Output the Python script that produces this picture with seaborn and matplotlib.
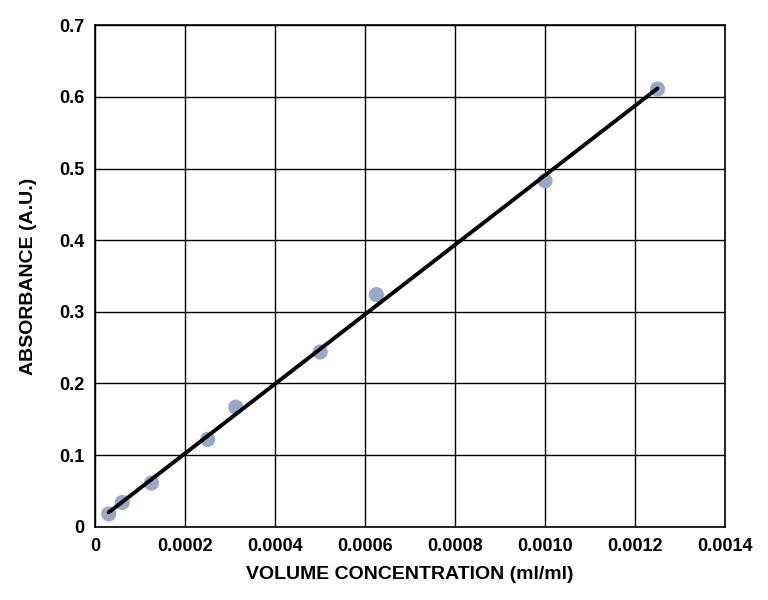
import matplotlib
matplotlib.use("Agg")
import matplotlib.pyplot as plt
import seaborn as sns
import pandas as pd
from matplotlib.ticker import FuncFormatter

# data
concentration = [0.00003, 0.00006, 0.000125, 0.00025, 0.0003125, 0.0005, 0.000625, 0.001, 0.00125]
absorbance = [0.018, 0.034, 0.061, 0.122, 0.167, 0.244, 0.324, 0.483, 0.611]
df = pd.DataFrame({"conc": concentration, "abs": absorbance})

sns.set_style("white")
plt.rcParams["font.family"] = ["Liberation Sans", "DejaVu Sans"]
plt.rcParams["font.weight"] = "bold"
plt.rcParams["text.color"] = "black"
plt.rcParams["axes.labelcolor"] = "black"
plt.rcParams["xtick.color"] = "black"
plt.rcParams["ytick.color"] = "black"

fig = plt.figure(figsize=(7.68, 6), dpi=100)
ax = fig.add_axes([0.124, 0.122, 0.82, 0.836])

sns.scatterplot(data=df, x="conc", y="abs", ax=ax, color="#9aa8c8", s=120,
                edgecolor="none", zorder=3)
sns.regplot(data=df, x="conc", y="abs", ax=ax, ci=None, scatter=False,
            line_kws={"color": "black", "linewidth": 2.8, "zorder": 4})

ax.set_xlim(0, 0.0014)
ax.set_ylim(0, 0.7)
ax.set_xticks([i * 0.0002 for i in range(8)])
ax.set_yticks([i * 0.1 for i in range(8)])
ax.xaxis.set_major_formatter(FuncFormatter(lambda v, p: "0" if abs(v) < 1e-12 else f"{v:.4f}"))
ax.yaxis.set_major_formatter(FuncFormatter(lambda v, p: "0" if abs(v) < 1e-12 else f"{v:.1f}"))
ax.grid(True, color="black", linewidth=1)
ax.set_axisbelow(True)
for s in ax.spines.values():
    s.set_color("black")
    s.set_linewidth(1.2)
ax.tick_params(labelsize=13, length=0, pad=8, colors="black")
for lab in ax.get_xticklabels() + ax.get_yticklabels():
    lab.set_fontweight("bold")
ax.set_xlabel("VOLUME CONCENTRATION (ml/ml)", fontsize=14, fontweight="bold", labelpad=8, color="black")
ax.set_ylabel("ABSORBANCE (A.U.)", fontsize=14, fontweight="bold", labelpad=16, color="black")

fig.savefig("out.png", dpi=100)
